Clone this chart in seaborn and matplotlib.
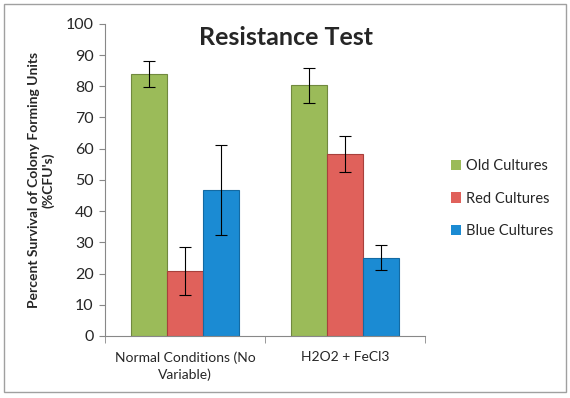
import pandas as pd
import seaborn as sns
import matplotlib.pyplot as plt
from matplotlib.patches import Rectangle

# values
conditions = ['Normal Conditions (No\nVariable)', 'H2O2 + FeCl3']
series = ['Old Cultures', 'Red Cultures', 'Blue Cultures']
old_vals = [84.0, 80.3]
red_vals = [20.8, 58.2]
blue_vals = [46.7, 25.0]
old_err = [4.2, 5.6]
red_err = [7.8, 5.8]
blue_err = [14.4, 4.0]
colors = ['#9BBB59', '#E0615B', '#1B8BD3']
edges = ['#71893F', '#A8403C', '#136AA3']


def create_plot():
    df = pd.DataFrame({
        'condition': conditions * 3,
        'culture': [s for s in series for _ in conditions],
        'value': old_vals + red_vals + blue_vals,
        'err': old_err + red_err + blue_err,
    })

    sns.set_style('white')
    plt.rcParams['font.family'] = ['Lato', 'DejaVu Sans']

    fig = plt.figure(figsize=(5.7, 3.98), dpi=100)
    ax = fig.add_axes([0.184, 0.156, 0.562, 0.784])

    sns.barplot(data=df, x='condition', y='value', hue='culture',
                hue_order=series, palette=colors, width=0.67,
                errorbar=None, ax=ax, saturation=1, linewidth=0)

    # edges + error bars on each bar, using the bar positions seaborn made
    bar_groups = list(ax.containers)
    for i, cont in enumerate(bar_groups):
        sub = df[df['culture'] == series[i]]
        xs = [p.get_x() + p.get_width() / 2 for p in cont.patches]
        for p in cont.patches:
            p.set_edgecolor(edges[i])
            p.set_linewidth(0.8)
        ax.errorbar(xs, sub['value'], yerr=sub['err'], fmt='none',
                    ecolor='black', elinewidth=0.8, capsize=4, capthick=0.8)

    ax.set_xlim(-0.5, 1.5)
    ax.set_ylim(0, 100)
    ax.set_yticks(range(0, 101, 10))
    ax.set_xlabel('')
    ax.set_ylabel("Percent Survival of Colony Forming Units\n(%CFU's)",
                  fontsize=10, fontweight='bold', labelpad=8)
    ax.tick_params(axis='y', labelsize=11.5, length=4, color='#888888',
                   direction='out', left=True, pad=4)
    ax.tick_params(axis='x', labelsize=10, length=0, pad=11)
    for lab in ax.get_xticklabels():
        lab.set_linespacing(1.45)
    ax.set_xticks([-0.5, 0.5, 1.5], minor=True)
    ax.tick_params(axis='x', which='minor', length=5, color='#888888',
                   direction='out', bottom=True)
    for s in ['top', 'right']:
        ax.spines[s].set_visible(False)
    for s in ['left', 'bottom']:
        ax.spines[s].set_color('#888888')
        ax.spines[s].set_linewidth(0.8)

    fig.text(0.502, 0.905, 'Resistance Test', ha='center', va='center',
             fontsize=18, fontweight='bold')

    ax.legend(loc='center left', bbox_to_anchor=(1.04, 0.44),
              frameon=False, fontsize=10.5, handlelength=0.7,
              handleheight=0.7, handletextpad=0.3, labelspacing=1.25)

    fig.patches.append(Rectangle((0.007, 0.015), 0.986, 0.975,
                                 transform=fig.transFigure, fill=False,
                                 edgecolor='#A0A0A0', linewidth=1))

    fig.savefig('out.png', dpi=100)


if __name__ == "__main__":
    create_plot()
